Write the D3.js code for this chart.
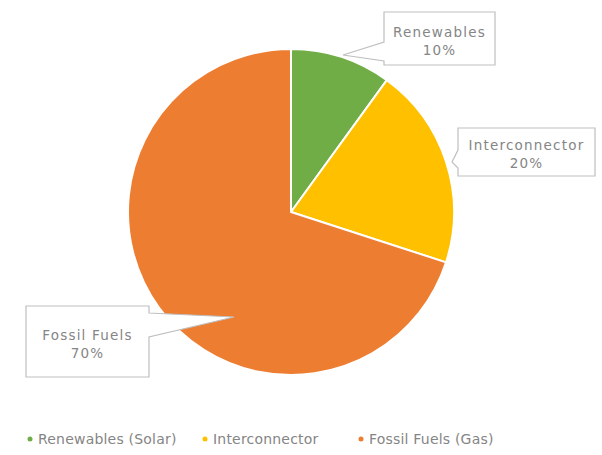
<!DOCTYPE html>
<html>
<head>
<meta charset="utf-8">
<script src="https://cdn.jsdelivr.net/npm/d3@7/dist/d3.min.js"></script>
<style>
  html, body { margin: 0; padding: 0; background: #fff; }
  svg { display: block; }
  text { font-family: "DejaVu Sans", sans-serif; fill: #858585; }
</style>
</head>
<body>
<svg id="chart" width="602" height="455"></svg>
<script>
// Energy mix shares (percent)
const categories = ["Renewables", "Interconnector", "Fossil Fuels"];
const legendLabels = ["Renewables (Solar)", "Interconnector", "Fossil Fuels (Gas)"];
const shares = [10, 20, 70];
const colors = ["#70AD47", "#FFC000", "#ED7D31"];

const svg = d3.select("#chart");
const cx = 291, cy = 212, radius = 163;

const pie = d3.pie().sort(null).value(d => d)(shares);
const arc = d3.arc().innerRadius(0).outerRadius(radius);

const g = svg.append("g").attr("transform", `translate(${cx},${cy})`);
g.selectAll("path.slice")
  .data(pie)
  .join("path")
  .attr("class", "slice")
  .attr("d", arc)
  .attr("fill", (d, i) => colors[i])
  .attr("stroke", "#fff")
  .attr("stroke-width", 2)
  .attr("stroke-linejoin", "round");

// Callout boxes: box rectangle, side of the pointer notch, and pointer tip
const callouts = [
  { box: [384, 12, 111, 53], side: "left", notch: [42, 61], tip: [343, 55] },
  { box: [458, 128, 137, 48], side: "left", notch: [150, 168], tip: [452, 162] },
  { box: [26, 306, 123, 71], side: "right", notch: [313, 337], tip: [234, 317] }
];

function calloutPath(c) {
  const [x, y, w, h] = c.box;
  const [n0, n1] = c.notch;
  const [tx, ty] = c.tip;
  if (c.side === "left") {
    return `M${x},${y} L${x + w},${y} L${x + w},${y + h} L${x},${y + h} L${x},${n1} L${tx},${ty} L${x},${n0} Z`;
  }
  return `M${x},${y} L${x + w},${y} L${x + w},${n0} L${tx},${ty} L${x + w},${n1} L${x + w},${y + h} L${x},${y + h} Z`;
}

const labels = svg.append("g");
callouts.forEach((c, i) => {
  labels.append("path")
    .attr("d", calloutPath(c))
    .attr("fill", "#fff")
    .attr("stroke", "#bfbfbf")
    .attr("stroke-width", 1.2)
    .attr("stroke-linejoin", "miter");
  const [x, y, w, h] = c.box;
  const mx = x + w / 2, my = y + h / 2;
  const t = labels.append("text")
    .attr("text-anchor", "middle")
    .attr("font-size", 13.5)
    .attr("letter-spacing", 1.2);
  t.append("tspan").attr("x", mx).attr("y", my - 2).text(categories[i]);
  t.append("tspan").attr("x", mx).attr("y", my + 16).text(d3.format(".0%")(pie[i].data / 100));
});

// Legend
const legendX = [30, 205, 361];
const legend = svg.append("g");
legendLabels.forEach((lab, i) => {
  legend.append("circle")
    .attr("cx", legendX[i])
    .attr("cy", 439)
    .attr("r", 2.5)
    .attr("fill", colors[i]);
  legend.append("text")
    .attr("x", legendX[i] + 8)
    .attr("y", 444)
    .attr("font-size", 14)
    .attr("letter-spacing", 0.2)
    .text(lab);
});
</script>
</body>
</html>
